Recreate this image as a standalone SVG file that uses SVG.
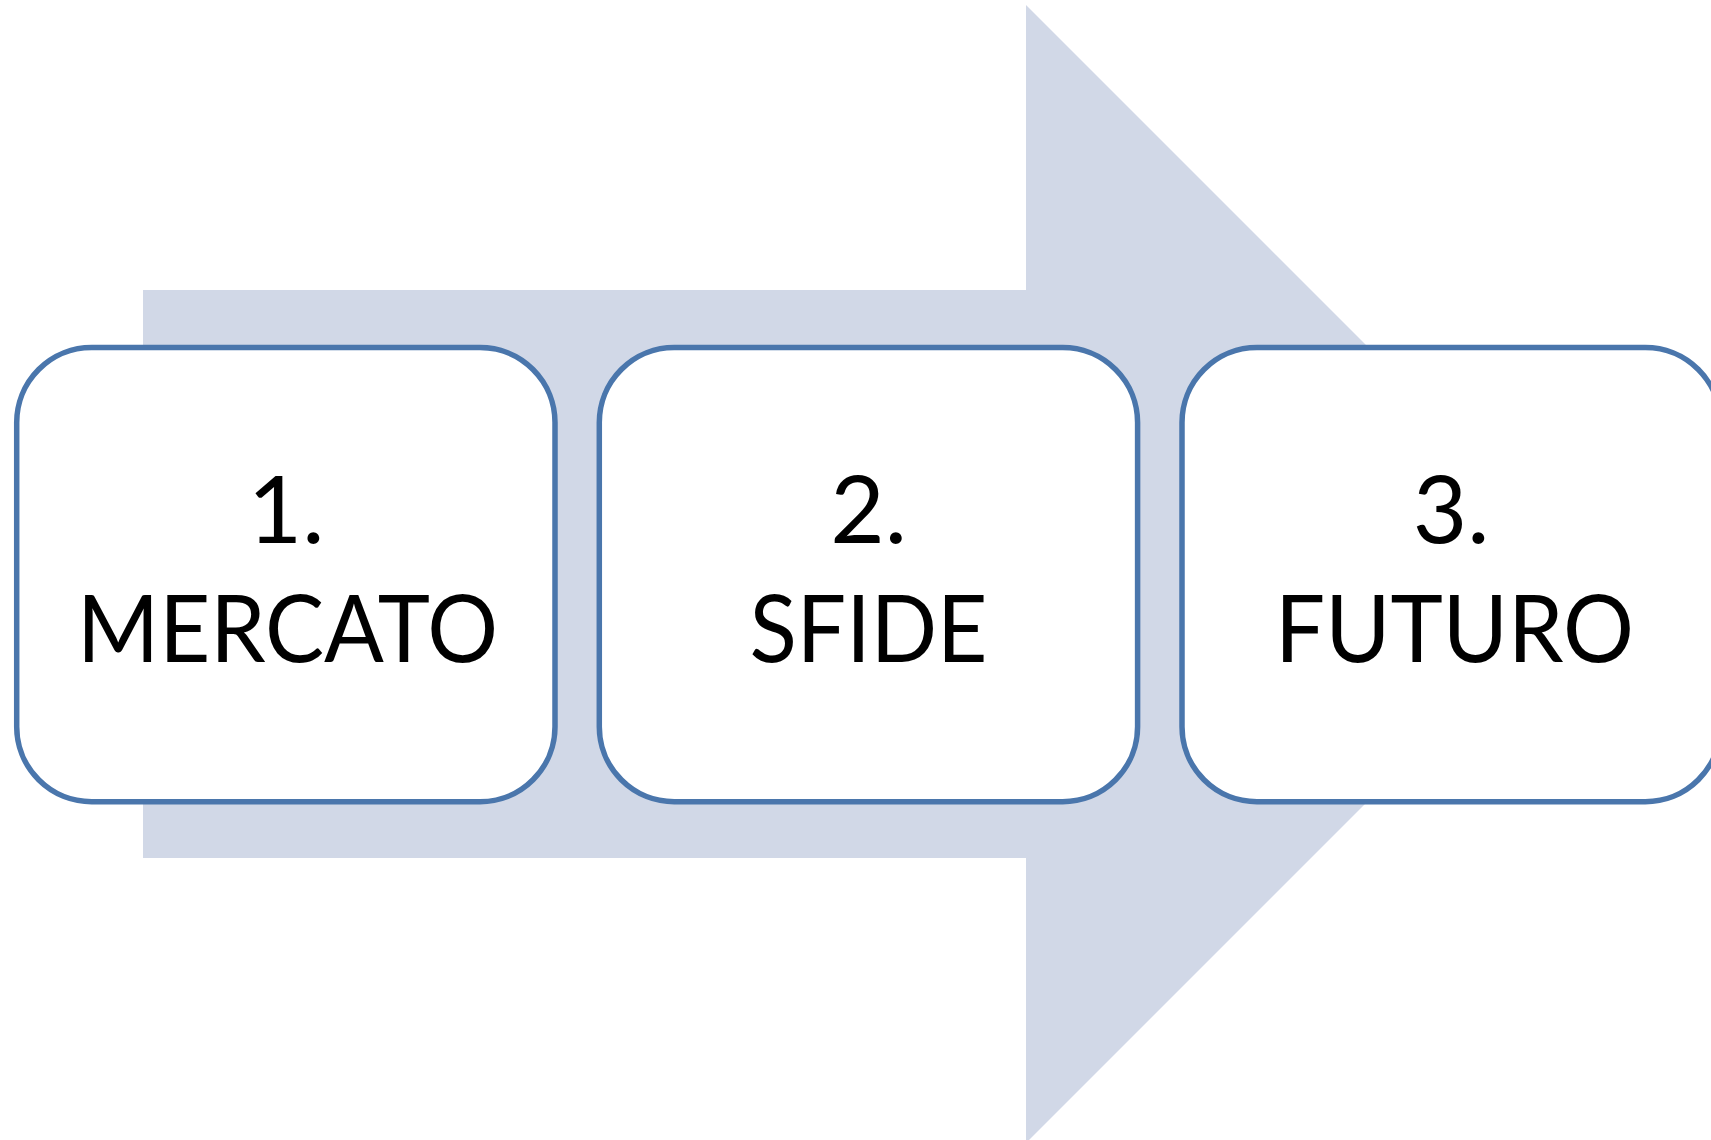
<svg xmlns="http://www.w3.org/2000/svg" width="1711" height="1140" viewBox="0 0 1711 1140">
<style>
.box{fill:#FFFFFF;stroke:#4A76AC;stroke-width:5.5}
.lbl{font-family:Lato,"Noto Sans","Liberation Sans",sans-serif;font-size:94px;fill:#000000;text-anchor:middle}
</style>
<rect width="1711" height="1140" fill="#FFFFFF"/>
<g id="connectors">
<polygon points="143,290 1026,290 1026,5 1595,574 1026,1143 1026,858 143,858" fill="#D1D8E7"/>
</g>
<g id="node1">
<rect class="box" x="16.7" y="347.5" width="538.3" height="454.2" rx="75" ry="75"/>
<text class="lbl" x="286" y="543">1.</text>
<text class="lbl" x="287.5" y="662" textLength="421" lengthAdjust="spacingAndGlyphs">MERCATO</text>
</g>
<g id="node2">
<rect class="box" x="599.3" y="347.5" width="538.3" height="454.2" rx="75" ry="75"/>
<text class="lbl" x="868.5" y="543">2.</text>
<text class="lbl" x="868.5" y="662" textLength="238" lengthAdjust="spacingAndGlyphs">SFIDE</text>
</g>
<g id="node3">
<rect class="box" x="1182" y="347.5" width="538.3" height="454.2" rx="75" ry="75"/>
<text class="lbl" x="1451" y="543">3.</text>
<text class="lbl" x="1454.5" y="662" textLength="359" lengthAdjust="spacingAndGlyphs">FUTURO</text>
</g>
</svg>
